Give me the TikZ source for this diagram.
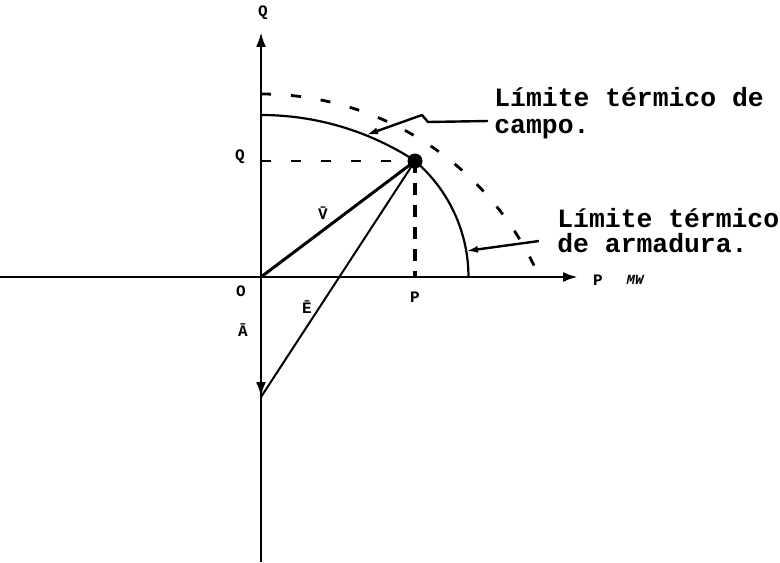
\documentclass[tikz,border=0pt]{standalone}
\usepackage{fontspec}
\setmonofont{Liberation Mono}
\usetikzlibrary{arrows.meta}
\tikzset{
  capaxis/.style={-{Latex[length=7.5pt,width=5pt]},line width=1.4pt},
  caparc/.style={line width=1.1pt},
  capdash/.style={line width=1.4pt,dash pattern=on 5pt off 10pt},
  capleader/.style={-{Latex[length=6pt,width=3.5pt]},line width=1.2pt,line join=round},
  caplabel/.style={font=\fontsize{8}{9}\selectfont\ttfamily\bfseries,inner sep=1pt},
  capnote/.style={font=\fontsize{13.2}{14}\selectfont\ttfamily\bfseries,anchor=base west,inner sep=0pt}
}
\begin{document}
\begin{tikzpicture}[x=5pt,y=5pt]
  \useasboundingbox (-26.1,-28.5) rectangle (51.9,27.7);
  \coordinate (O) at (0,0);
  \coordinate (A) at (0,-12);
  \coordinate (S) at (15.4,11.6);
  \coordinate (west) at (-26.1,0);
  \coordinate (east) at (31.7,0);
  \coordinate (south) at (0,-28.5);
  \coordinate (north) at (0,24.5);
  \coordinate (fieldhit) at (10.5,14.2);
  \coordinate (armhit) at (20.5,2.6);
  % axes
  \draw[capaxis] (west) -- (east);
  \draw[capaxis] (south) -- (north);
  \draw[capaxis] (O) -- (A);
  % limits
  \draw[caparc] (0,16.2) arc[start angle=90,end angle=56.9,radius=28.2];
  \draw[caparc] (S) arc[start angle=49.5,end angle=0,radius=15.25];
  \draw[capdash] (0,18.3) arc[start angle=90,end angle=25,radius=30.3];
  % projections
  \draw[line width=0.9pt,dash pattern=on 5pt off 10pt] (S -| O) -- (S);
  \draw[line width=1.8pt,dash pattern=on 6pt off 5pt] (S) -- (S |- O);
  % vectors
  \draw[line width=1.5pt] (O) -- (S);
  \draw[line width=1pt] (A) -- (S);
  \fill (S) circle (0.75);
  % labels
  \node[caplabel] (Qtop) at (0.2,26.4) {Q};
  \node[caplabel] (Qop) at (-2.1,12.0) {Q};
  \node[caplabel] (Olbl) at (-2.0,-1.4) {O};
  \node[caplabel] (Pop) at (15.4,-2.0) {P};
  \node[caplabel] (Paxis) at (33.7,-0.3) {P};
  \node[caplabel,font=\fontsize{7}{8}\selectfont\ttfamily\bfseries\itshape] (MW) at (37.4,-0.3) {MW};
  \node[caplabel] (Albl) at (-1.8,-5.3) {\=A};
  \node[caplabel] (Elbl) at (4.6,-3.0) {\=E};
  \node[caplabel] (Vlbl) at (6.2,6.4) {\=V};
  \node[capnote] (campoA) at (23.3,17.0) {Límite térmico de};
  \node[capnote] (campoB) at (23.3,14.3) {campo.};
  \node[capnote] (armA) at (29.6,5.0) {Límite térmico};
  \node[capnote] (armB) at (29.6,2.5) {de armadura.};
  % leaders
  \draw[capleader] ([xshift=-3pt,yshift=6.5pt]campoB.base west) -- (16.7,15.5) -- (16.1,16.2) -- (fieldhit);
  \draw[capleader] ([xshift=-9pt,yshift=5.5pt]armB.base west) -- (armhit);
\end{tikzpicture}
\end{document}
